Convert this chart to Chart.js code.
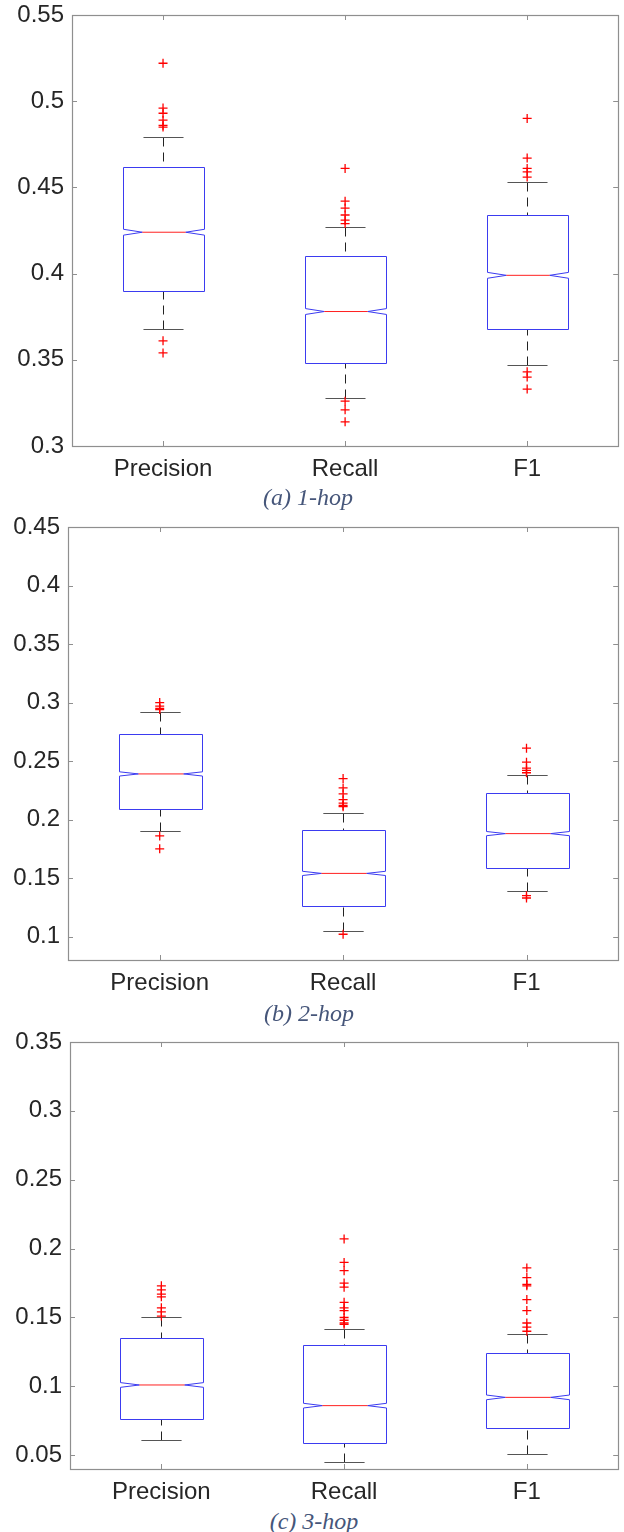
<!DOCTYPE html>
<html>
<head>
<meta charset="utf-8">
<script src="https://cdn.jsdelivr.net/npm/chart.js@4.4.0/dist/chart.umd.min.js"></script>
<style>
  body { margin: 0; background: #fff; width: 624px; height: 1532px; position: relative; overflow: hidden; }
  canvas { position: absolute; left: 0; }
  .caption { position: absolute; width: 200px; text-align: center; line-height: 24px;
             font: italic 24px "Liberation Serif", "Times New Roman", serif; color: #46567a; }
</style>
</head>
<body>
<canvas id="hop1" width="624" height="485" style="top:0px"></canvas>
<canvas id="hop2" width="624" height="494" style="top:505px"></canvas>
<canvas id="hop3" width="624" height="488" style="top:1020px"></canvas>
<div class="caption" style="left:208px;top:484px">(a) 1-hop</div>
<div class="caption" style="left:209px;top:1000px">(b) 2-hop</div>
<div class="caption" style="left:214px;top:1508px">(c) 3-hop</div>
<script>
const categories = ['Precision', 'Recall', 'F1'];

// (a) 1-hop
const hop1Ticks = [0.3, 0.35, 0.4, 0.45, 0.5, 0.55];
const hop1Low = [0.368, 0.328, 0.347];
const hop1Q1 = [0.390, 0.348, 0.368];
const hop1Median = [0.424, 0.378, 0.399];
const hop1Q3 = [0.462, 0.410, 0.434];
const hop1High = [0.479, 0.427, 0.453];
const hop1Notch = [0.0017, 0.0017, 0.0017];
const hop1Outliers = [
    [0.522, 0.496, 0.493, 0.489, 0.486, 0.485, 0.361, 0.354],
    [0.461, 0.442, 0.438, 0.434, 0.431, 0.429, 0.326, 0.321, 0.314],
    [0.490, 0.467, 0.461, 0.459, 0.456, 0.343, 0.340, 0.333]
];

// (b) 2-hop
const hop2Ticks = [0.1, 0.15, 0.2, 0.25, 0.3, 0.35, 0.4, 0.45];
const hop2Low = [0.190, 0.105, 0.139];
const hop2Q1 = [0.209, 0.126, 0.159];
const hop2Median = [0.239, 0.154, 0.188];
const hop2Q3 = [0.273, 0.191, 0.223];
const hop2High = [0.292, 0.206, 0.238];
const hop2Notch = [0.0018, 0.0018, 0.0018];
const hop2Outliers = [
    [0.300, 0.297, 0.295, 0.294, 0.186, 0.175],
    [0.235, 0.227, 0.222, 0.217, 0.214, 0.212, 0.211, 0.102],
    [0.261, 0.249, 0.244, 0.242, 0.240, 0.135, 0.133]
];

// (c) 3-hop
const hop3Ticks = [0.05, 0.1, 0.15, 0.2, 0.25, 0.3, 0.35];
const hop3Low = [0.061, 0.045, 0.051];
const hop3Q1 = [0.076, 0.059, 0.070];
const hop3Median = [0.101, 0.086, 0.092];
const hop3Q3 = [0.135, 0.130, 0.124];
const hop3High = [0.150, 0.142, 0.138];
const hop3Notch = [0.0017, 0.0017, 0.0017];
const hop3Outliers = [
    [0.173, 0.170, 0.167, 0.165, 0.157, 0.154, 0.151],
    [0.207, 0.190, 0.184, 0.175, 0.172, 0.161, 0.157, 0.155, 0.150, 0.148, 0.146, 0.145],
    [0.186, 0.179, 0.174, 0.173, 0.163, 0.155, 0.146, 0.143, 0.140]
];

const labelFont = { family: '"Liberation Sans", Arial, sans-serif', size: 24 };

// draws frame, inward ticks and notched boxes using the chart's scales
function boxPlugin(box) {
    return {
        id: 'notchedBoxes',
        beforeDatasetsDraw(chart) {
            const { ctx, chartArea: a } = chart;
            const x = chart.scales.x, y = chart.scales.y;
            const step = x.getPixelForValue(1) - x.getPixelForValue(0);
            const px = v => Math.round(v) + 0.5;
            ctx.save();

            ctx.strokeStyle = '#8f8f8f';
            ctx.lineWidth = 1.2;
            ctx.strokeRect(px(a.left), px(a.top), Math.round(a.right - a.left), Math.round(a.bottom - a.top));
            ctx.lineWidth = 1;
            ctx.beginPath();
            y.ticks.forEach(t => {
                const ty = px(y.getPixelForValue(t.value));
                ctx.moveTo(a.left, ty); ctx.lineTo(a.left + 5, ty);
                ctx.moveTo(a.right, ty); ctx.lineTo(a.right - 5, ty);
            });
            categories.forEach((c, i) => {
                const tx = px(x.getPixelForValue(i));
                ctx.moveTo(tx, a.top); ctx.lineTo(tx, a.top + 5);
                ctx.moveTo(tx, a.bottom); ctx.lineTo(tx, a.bottom - 5);
            });
            ctx.stroke();

            categories.forEach((c, i) => {
                const cx = px(x.getPixelForValue(i));
                const hw = step * 0.225;
                const ind = hw * 0.46;
                const capW = step * 0.11;
                const yQ1 = px(y.getPixelForValue(box.q1[i]));
                const yQ3 = px(y.getPixelForValue(box.q3[i]));
                const yMed = y.getPixelForValue(box.median[i]);
                const yNLo = y.getPixelForValue(box.median[i] - box.notch[i]);
                const yNHi = y.getPixelForValue(box.median[i] + box.notch[i]);
                const yLow = px(y.getPixelForValue(box.low[i]));
                const yHigh = px(y.getPixelForValue(box.high[i]));

                // whiskers
                ctx.strokeStyle = '#222';
                ctx.lineWidth = 1;
                ctx.setLineDash([9, 6]);
                ctx.beginPath();
                ctx.moveTo(cx, yHigh); ctx.lineTo(cx, yQ3);
                ctx.moveTo(cx, yLow); ctx.lineTo(cx, yQ1);
                ctx.stroke();
                ctx.setLineDash([]);
                ctx.strokeStyle = '#555';
                ctx.beginPath();
                ctx.moveTo(cx - capW, yHigh); ctx.lineTo(cx + capW, yHigh);
                ctx.moveTo(cx - capW, yLow); ctx.lineTo(cx + capW, yLow);
                ctx.stroke();

                // notched box
                const l = Math.round(cx - hw) + 0.5, r = Math.round(cx + hw) + 0.5;
                ctx.strokeStyle = '#3b3bf0';
                ctx.beginPath();
                ctx.moveTo(l, yQ1);
                ctx.lineTo(l, yNLo);
                ctx.lineTo(l + ind, yMed);
                ctx.lineTo(l, yNHi);
                ctx.lineTo(l, yQ3);
                ctx.lineTo(r, yQ3);
                ctx.lineTo(r, yNHi);
                ctx.lineTo(r - ind, yMed);
                ctx.lineTo(r, yNLo);
                ctx.lineTo(r, yQ1);
                ctx.closePath();
                ctx.stroke();

                // median
                ctx.strokeStyle = '#ff2020';
                ctx.beginPath();
                ctx.moveTo(l + ind, yMed); ctx.lineTo(r - ind, yMed);
                ctx.stroke();
            });
            ctx.restore();
        }
    };
}

function noPad(s) {
    s.paddingTop = 0; s.paddingBottom = 0; s.paddingLeft = 0; s.paddingRight = 0;
}

function buildChart(id, box) {
    const points = [];
    box.outliers.forEach((list, i) => list.forEach(v => points.push({ x: categories[i], y: v })));
    return new Chart(document.getElementById(id), {
        type: 'line',
        data: {
            labels: categories,
            datasets: [{
                data: points,
                showLine: false,
                pointStyle: 'cross',
                pointRadius: 4.5,
                pointBorderColor: '#ff0000',
                pointBorderWidth: 1.3
            }]
        },
        options: {
            responsive: false,
            animation: false,
            events: [],
            layout: { padding: { top: box.top, right: box.right, left: 0, bottom: 0 } },
            plugins: { legend: { display: false }, tooltip: { enabled: false } },
            scales: {
                x: {
                    type: 'category',
                    offset: true,
                    grid: { display: false, drawTicks: false },
                    border: { display: false },
                    ticks: { padding: 9, color: '#262626', font: labelFont },
                    afterFit: s => { s.height = 39; noPad(s); }
                },
                y: {
                    min: box.min,
                    max: box.max,
                    grid: { display: false, drawTicks: false },
                    border: { display: false },
                    ticks: { padding: 8, color: '#262626', font: labelFont,
                             callback: v => String(Number(v.toFixed(2))) },
                    afterBuildTicks: s => { s.ticks = box.ticks.map(v => ({ value: v })); },
                    afterFit: s => { s.width = box.left; noPad(s); }
                }
            }
        },
        plugins: [boxPlugin(box)]
    });
}

buildChart('hop1', { min: 0.3, max: 0.55, ticks: hop1Ticks, low: hop1Low, q1: hop1Q1, median: hop1Median,
    q3: hop1Q3, high: hop1High, notch: hop1Notch, outliers: hop1Outliers, top: 15, right: 2, left: 72 });
buildChart('hop2', { min: 0.08, max: 0.45, ticks: hop2Ticks, low: hop2Low, q1: hop2Q1, median: hop2Median,
    q3: hop2Q3, high: hop2High, notch: hop2Notch, outliers: hop2Outliers, top: 22, right: 1, left: 68 });
buildChart('hop3', { min: 0.04, max: 0.35, ticks: hop3Ticks, low: hop3Low, q1: hop3Q1, median: hop3Median,
    q3: hop3Q3, high: hop3High, notch: hop3Notch, outliers: hop3Outliers, top: 22, right: 5, left: 70 });
</script>
</body>
</html>
